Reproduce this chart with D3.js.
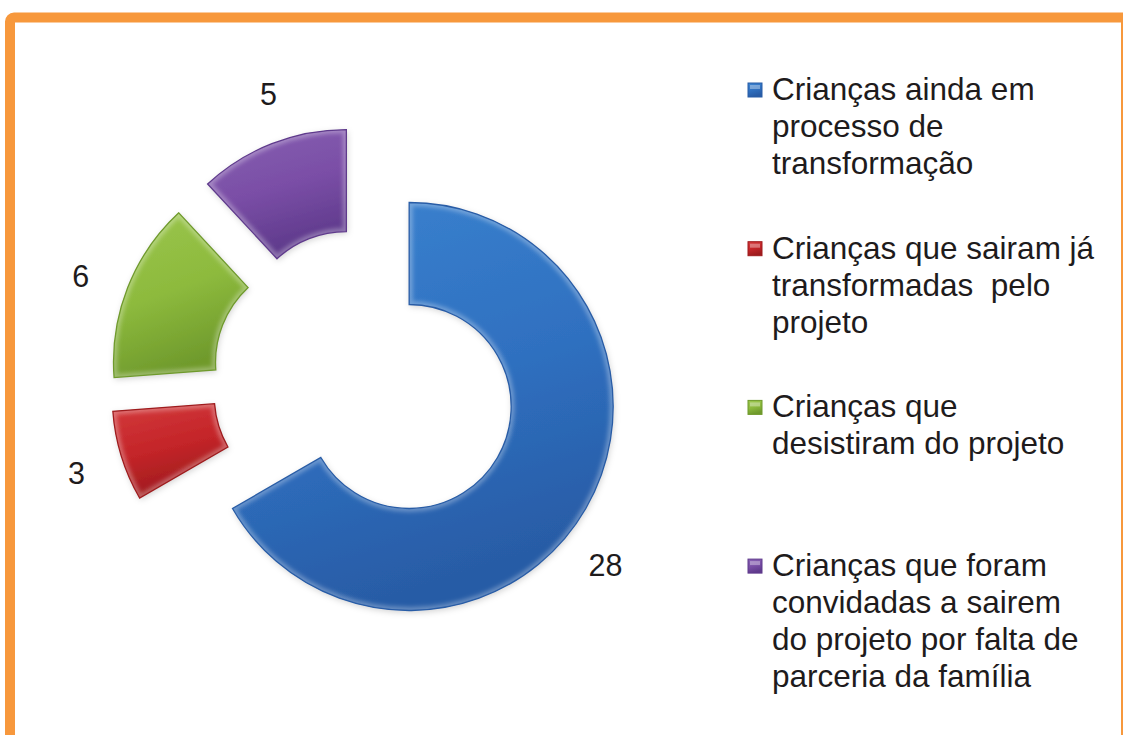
<!DOCTYPE html>
<html lang="pt">
<head>
<meta charset="UTF-8">
<title>Crianças do projeto</title>
<style>
    body { margin: 0; background: #fff; }
    svg { display: block; }
    text { font-family: "Liberation Sans", Arial, sans-serif; fill: #1e1b1c; }
</style>
</head>
<body>
<div id="chart"></div>
<script src="https://d3js.org/d3.v7.min.js"></script>
<script>
"use strict";

// data
const categories = [
    "Crianças ainda em processo de transformação",
    "Crianças que sairam já transformadas  pelo projeto",
    "Crianças que desistiram do projeto",
    "Crianças que foram convidadas a sairem do projeto por falta de parceria da família"
];
const values = [28, 3, 6, 5];
const colors = ["#2f70c0", "#c42529", "#8dba3d", "#7a4ea6"];
const lightColors = ["#3b83d0", "#d3393b", "#9bc64d", "#8760b2"];
const darkColors = ["#285ca6", "#9e1b1d", "#6f9a2c", "#5f3a8c"];

const width = 1123, height = 735;
const cx = 365, cy = 381;
const innerR = 102, outerR = 204, explode = 51, labelR = 303;

const svg = d3.select("#chart").append("svg")
    .attr("width", width)
    .attr("height", height);

const defs = svg.append("defs");

// orange frame
svg.append("rect")
    .attr("x", 10).attr("y", 17.5)
    .attr("width", 1116).attr("height", 760)
    .attr("rx", 4)
    .attr("fill", "#fff")
    .attr("stroke", "#f7983c")
    .attr("stroke-width", 10);

colors.forEach(function (c, i) {
    const g = defs.append("linearGradient")
        .attr("id", "grad" + i)
        .attr("x1", 0).attr("y1", 0).attr("x2", 0.3).attr("y2", 1);
    g.append("stop").attr("offset", "0%").attr("stop-color", lightColors[i]);
    g.append("stop").attr("offset", "55%").attr("stop-color", c);
    g.append("stop").attr("offset", "100%").attr("stop-color", darkColors[i]);
});

defs.append("filter").attr("id", "soft")
    .append("feGaussianBlur").attr("stdDeviation", 2.2);

const shadow = defs.append("filter").attr("id", "shadow")
    .attr("x", "-20%").attr("y", "-20%").attr("width", "140%").attr("height", "140%");
shadow.append("feDropShadow")
    .attr("dx", 1).attr("dy", 2).attr("stdDeviation", 3)
    .attr("flood-color", "#000").attr("flood-opacity", 0.18);

const pie = d3.pie().sort(null).value(d => d);
const arcs = pie(values);

const arc = d3.arc()
    .innerRadius(innerR)
    .outerRadius(outerR);

const chart = svg.append("g")
    .attr("transform", "translate(" + cx + "," + cy + ")");

const slice = chart.selectAll(".slice")
    .data(arcs)
    .enter().append("g")
    .attr("class", "slice")
    .attr("transform", function (d) {
        const a = (d.startAngle + d.endAngle) / 2;
        return "translate(" + (Math.sin(a) * explode) + "," + (-Math.cos(a) * explode) + ")";
    });

slice.append("clipPath")
    .attr("id", (d, i) => "clip" + i)
    .append("path")
    .attr("d", arc);

slice.append("path")
    .attr("d", arc)
    .attr("fill", (d, i) => "url(#grad" + i + ")")
    .attr("filter", "url(#shadow)");

// bevel highlight along the edges
slice.append("g")
    .attr("clip-path", (d, i) => "url(#clip" + i + ")")
    .append("path")
    .attr("d", arc)
    .attr("fill", "none")
    .attr("stroke", "#fff")
    .attr("stroke-opacity", 0.3)
    .attr("stroke-width", 7)
    .attr("filter", "url(#soft)");

slice.append("path")
    .attr("d", arc)
    .attr("fill", "none")
    .attr("stroke", (d, i) => darkColors[i])
    .attr("stroke-width", 1.3);

// value labels, outside end (small angle nudges like the original layout)
function labelAngle(d, i) {
    const nudge = [0.13, -0.01, -0.02, 0.05];
    return (d.startAngle + d.endAngle) / 2 + nudge[i];
}

chart.selectAll(".label")
    .data(arcs)
    .enter().append("text")
    .attr("class", "label")
    .attr("x", (d, i) => Math.sin(labelAngle(d, i)) * labelR)
    .attr("y", (d, i) => -Math.cos(labelAngle(d, i)) * labelR)
    .attr("dy", "0.36em")
    .attr("text-anchor", "middle")
    .style("font-size", "30.5px")
    .text(d => d.data);

// legend
const legendX = 748, legendY = 100, legendStep = 158.7, lineH = 37, maxW = 332;

const legend = svg.append("g");

function wrap(str, textEl) {
    const words = str.split(" ");
    const lines = [];
    let line = "";
    words.forEach(function (w) {
        const test = line === "" ? w : line + " " + w;
        textEl.text(test);
        if (textEl.node().getComputedTextLength() > maxW && line !== "") {
            lines.push(line);
            line = w;
        } else {
            line = test;
        }
    });
    lines.push(line);
    return lines;
}

categories.forEach(function (cat, i) {
    const y = legendY + i * legendStep;
    legend.append("rect")
        .attr("x", legendX).attr("y", y - 17)
        .attr("width", 14).attr("height", 14)
        .attr("fill", "url(#grad" + i + ")")
        .attr("stroke", darkColors[i])
        .attr("stroke-width", 1);
    legend.append("rect")
        .attr("x", legendX + 2).attr("y", y - 15)
        .attr("width", 10).attr("height", 4)
        .attr("fill", "#fff").attr("opacity", 0.35);

    const t = legend.append("text")
        .attr("x", legendX + 24).attr("y", y)
        .style("font-size", "31.5px")
        .style("white-space", "pre");
    const lines = wrap(cat, t);
    t.text(null);
    lines.forEach(function (l, j) {
        t.append("tspan")
            .attr("x", legendX + 24)
            .attr("y", y + j * lineH)
            .text(l);
    });
});
</script>
</body>
</html>
